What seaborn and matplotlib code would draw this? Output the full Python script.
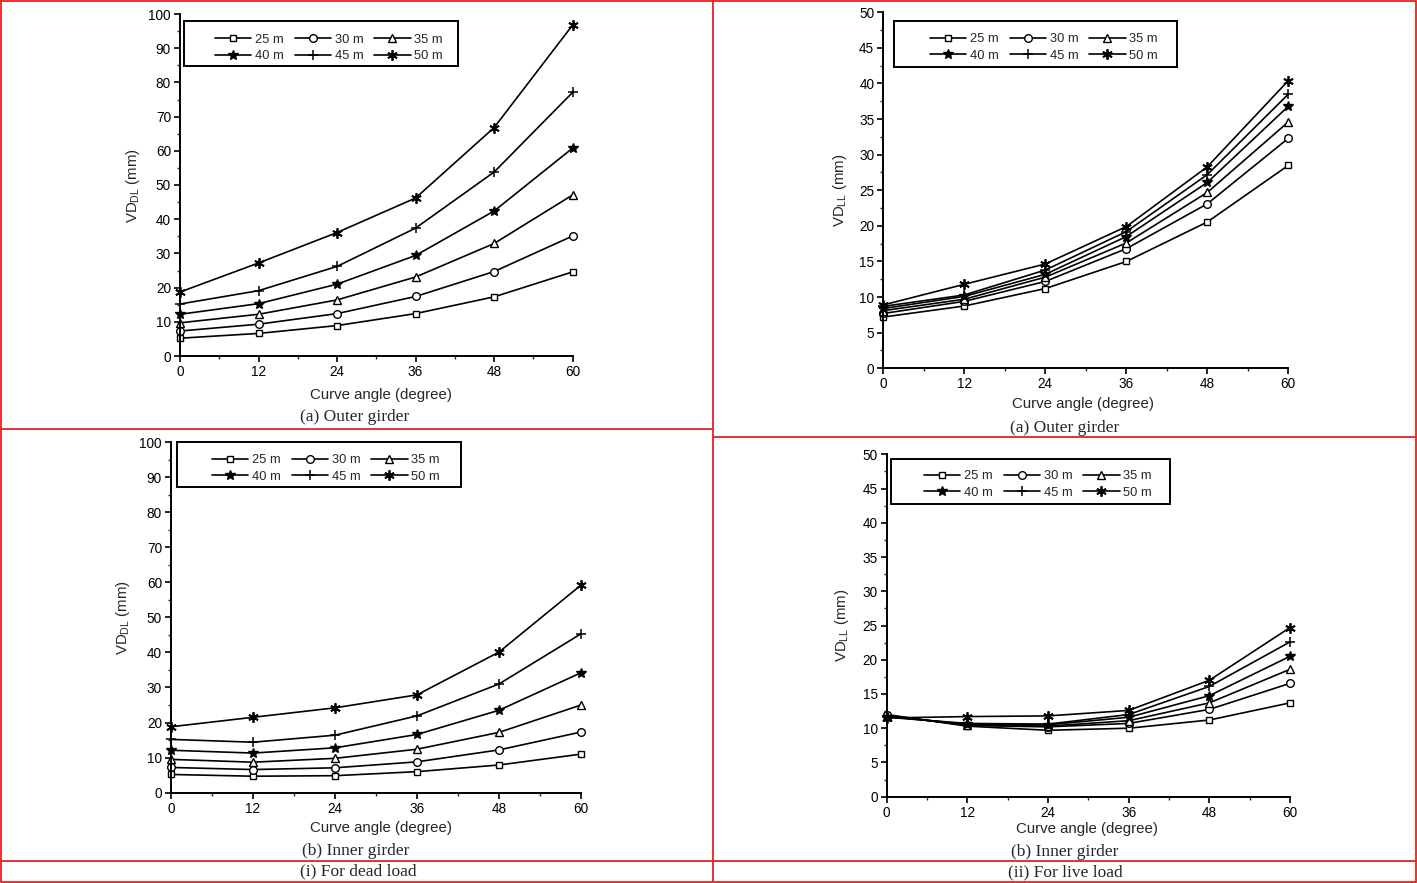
import matplotlib
matplotlib.use("Agg")
import matplotlib.pyplot as plt
import seaborn as sns
from matplotlib.lines import Line2D
from matplotlib.patches import Rectangle
from matplotlib.ticker import MultipleLocator

# --- Data ---
angles = [0, 12, 24, 36, 48, 60]
spans = ["25 m", "30 m", "35 m", "40 m", "45 m", "50 m"]

# vertical deflection, dead load, outer girder (mm)
outer_dl = [
    [5.2, 6.6, 8.9, 12.4, 17.3, 24.6],
    [7.3, 9.3, 12.4, 17.4, 24.7, 35.1],
    [9.7, 12.2, 16.4, 23.1, 32.9, 47.1],
    [12.2, 15.3, 21.0, 29.4, 42.4, 60.8],
    [15.2, 19.1, 26.2, 37.4, 53.8, 77.1],
    [18.7, 27.2, 36.1, 46.2, 66.8, 96.8],
]
# vertical deflection, live load, outer girder (mm)
outer_ll = [
    [7.2, 8.75, 11.2, 15.0, 20.55, 28.5],
    [7.7, 9.4, 12.2, 16.8, 23.1, 32.3],
    [8.1, 9.7, 12.8, 17.6, 24.7, 34.6],
    [8.4, 10.1, 13.2, 18.5, 26.1, 36.8],
    [8.7, 10.3, 13.8, 19.2, 27.2, 38.5],
    [8.9, 11.8, 14.65, 19.9, 28.3, 40.4],
]
# vertical deflection, dead load, inner girder (mm)
inner_dl = [
    [5.2, 4.7, 4.85, 6.0, 7.9, 11.0],
    [7.2, 6.6, 7.1, 8.8, 12.2, 17.3],
    [9.5, 8.7, 9.8, 12.4, 17.2, 25.0],
    [12.1, 11.3, 12.8, 16.6, 23.5, 34.2],
    [15.2, 14.4, 16.4, 21.9, 31.0, 45.3],
    [18.8, 21.5, 24.2, 27.9, 40.1, 59.2],
]
# vertical deflection, live load, inner girder (mm)
inner_ll = [
    [12.0, 10.3, 9.7, 10.0, 11.2, 13.7],
    [11.9, 10.4, 10.2, 10.7, 12.75, 16.55],
    [11.8, 10.5, 10.3, 11.1, 13.7, 18.6],
    [11.7, 10.6, 10.5, 11.6, 14.75, 20.5],
    [11.6, 10.7, 10.6, 12.0, 16.1, 22.6],
    [11.5, 11.7, 11.8, 12.6, 17.0, 24.7],
]

# --- Styling ---
W, H = 1417, 883
RED = "#e32222"
markers = ["s", "o", "^", "*", "+", (6, 2, 0)]
face = ["white", "white", "white", "black", "black", "black"]
msizes = [5, 5.5, 6, 7, 7.5, 7.5]
mews = [1.0, 1.0, 1.0, 1.0, 1.1, 1.3]

sns.set_style("ticks")
plt.rcParams["font.family"] = ["Liberation Sans", "DejaVu Sans"]
plt.rcParams["mathtext.default"] = "regular"


def fx(px):
    return px / W


def fy(py):
    return 1 - py / H


panels = [
    # axes pixels (x0, x1, y0, y1), legend box, legend centre, xlabel centre, ylabel x
    dict(data=outer_dl, lab="DL", ymax=100, major=10, minor=5,
         px=(180, 572.7, 356, 14), box=(184, 21, 458, 66), cen=(329, 48),
         xl=(380.8, 395), yl=133),
    dict(data=outer_ll, lab="LL", ymax=50, major=5, minor=2.5,
         px=(883.3, 1288.3, 368.3, 12.3), box=(894, 20.7, 1177, 67.3), cen=(1044, 47.7),
         xl=(1083, 404), yl=840),
    dict(data=inner_dl, lab="DL", ymax=100, major=10, minor=5,
         px=(171, 581, 792.7, 442), box=(176.7, 442, 460.7, 487), cen=(326, 468.7),
         xl=(381, 828), yl=123),
    dict(data=inner_ll, lab="LL", ymax=50, major=5, minor=2.5,
         px=(886.7, 1290, 796.7, 454.3), box=(890.7, 459, 1170, 504), cen=(1038, 484.7),
         xl=(1087, 829), yl=841.7),
]

fig = plt.figure(figsize=(W / 100, H / 100), dpi=100)

for p in panels:
    x0, x1, y0, y1 = p["px"]
    ax = fig.add_axes([fx(x0), fy(y0), (x1 - x0) / W, (y0 - y1) / H])
    for i, span in enumerate(spans):
        sns.lineplot(x=angles, y=p["data"][i], ax=ax, color="black", lw=1.2,
                     marker=markers[i], markersize=msizes[i], mfc=face[i],
                     mec="black", mew=mews[i], label=span, clip_on=False)

    ax.set_xlim(0, 60)
    ax.set_ylim(0, p["ymax"])
    ax.set_xticks(angles)
    ax.xaxis.set_minor_locator(MultipleLocator(6))
    ax.yaxis.set_major_locator(MultipleLocator(p["major"]))
    ax.yaxis.set_minor_locator(MultipleLocator(p["minor"]))
    ax.tick_params(which="major", direction="out", length=4, width=1.2,
                   labelsize=9.8, pad=2.5, colors="black")
    ax.tick_params(which="minor", direction="out", length=2.2, width=1.0)
    for s in ["top", "right"]:
        ax.spines[s].set_visible(False)
    for s in ["left", "bottom"]:
        ax.spines[s].set_linewidth(1.4)
        ax.spines[s].set_color("black")

    ax.set_xlabel("Curve angle (degree)", fontsize=10.8, va="center")
    ax.xaxis.set_label_coords((p["xl"][0] - x0) / (x1 - x0),
                              (y0 - p["xl"][1]) / (y0 - y1))
    ax.set_ylabel(r"VD$_{\mathregular{" + p["lab"] + "}}$ (mm)", fontsize=10.8,
                  va="center")
    ax.yaxis.set_label_coords((p["yl"] - x0) / (x1 - x0), 0.5)

    handles, labels = ax.get_legend_handles_labels()
    order = [0, 3, 1, 4, 2, 5]
    ax.legend([handles[k] for k in order], [labels[k] for k in order],
              ncol=3, loc="center", frameon=False, fontsize=9.3,
              bbox_to_anchor=(fx(p["cen"][0]), fy(p["cen"][1])),
              bbox_transform=fig.transFigure, borderpad=0,
              handlelength=2.8, handletextpad=0.3, columnspacing=0.85,
              labelspacing=0.35)
    bx0, by0, bx1, by1 = p["box"]
    fig.add_artist(Rectangle((fx(bx0), fy(by1)), (bx1 - bx0) / W, (by1 - by0) / H,
                             transform=fig.transFigure, fill=False,
                             ec="black", lw=1.4))

# captions
serif = ["Liberation Serif", "DejaVu Serif"]
captions = [
    ("(a) Outer girder", 355, 417),
    ("(a) Outer girder", 1065, 427.7),
    ("(b) Inner girder", 356, 850.7),
    ("(b) Inner girder", 1064.5, 851.7),
    ("(i) For dead load", 358.8, 871),
    ("(ii) For live load", 1065, 872),
]
for txt, cx, cy in captions:
    fig.text(fx(cx), fy(cy), txt, ha="center", va="center",
             family=serif, fontsize=12.5)

# red table grid
grid = [
    ((1, 1416), (1, 1)),
    ((1, 1416), (882, 882)),
    ((1, 1), (1, 882)),
    ((1416, 1416), (1, 882)),
    ((712.5, 712.5), (1, 882)),
    ((1, 712.5), (429, 429)),
    ((712.5, 1416), (437, 437)),
    ((1, 1416), (861, 861)),
]
for xs, ys in grid:
    fig.add_artist(Line2D([fx(v) for v in xs], [fy(v) for v in ys],
                          transform=fig.transFigure, color=RED, lw=1.3))

plt.savefig("out.png", dpi=100)
